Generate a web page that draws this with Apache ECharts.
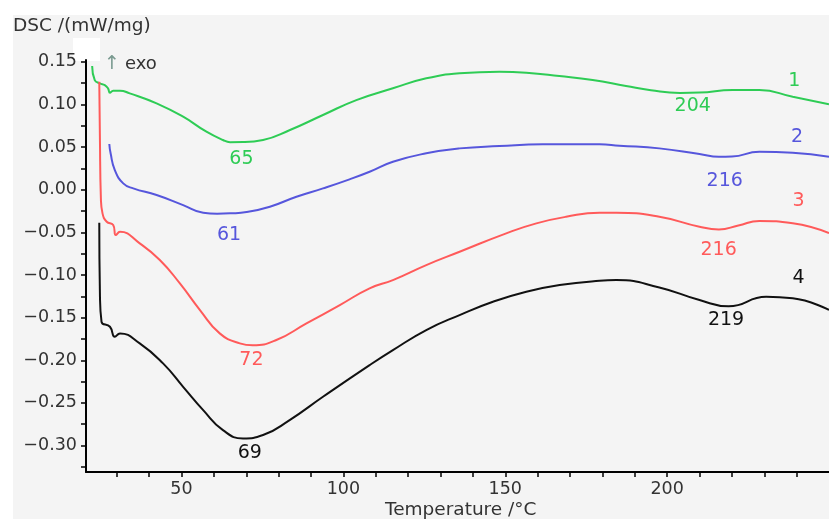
<!DOCTYPE html>
<html>
<head>
<meta charset="utf-8">
<script src="https://cdn.jsdelivr.net/npm/echarts@6/dist/echarts.min.js"></script>
<style>
  html, body { margin: 0; padding: 0; background: #ffffff; }
  #chart { width: 829px; height: 519px; }
</style>
</head>
<body>
<div id="chart"></div>
<script>
// DSC heat-flow traces of four samples (mW/mg vs °C)
const temp1 = [22.4, 23.2, 24.8, 26.3, 27.3, 27.9, 28.9, 31.0, 34.0, 42.3, 50.5, 57.7, 62.8, 65, 69, 75.2, 83.5, 93.7, 104.0, 115.3, 125.6, 135.9, 148.2, 156.5, 166.7, 177.0, 187.3, 195, 204, 210.0, 220.2, 228.5, 238.8, 250];
const dsc1  = [0.1450, 0.1285, 0.1246, 0.1226, 0.1188, 0.1136, 0.1160, 0.1160, 0.1129, 0.1012, 0.0855, 0.0679, 0.0582, 0.0557, 0.0558, 0.0582, 0.0699, 0.0875, 0.1050, 0.1188, 0.1305, 0.1364, 0.1382, 0.1371, 0.1332, 0.1285, 0.1215, 0.1165, 0.1134, 0.1138, 0.1168, 0.1168, 0.1089, 0.1000];

const temp2 = [27.7, 28.1, 29.4, 32.0, 35.1, 42.3, 50.5, 56.7, 61, 65, 70.1, 77.3, 85.5, 93.7, 101.9, 108.1, 115.3, 125.6, 135.9, 148.2, 161.6, 179.1, 185.3, 197.6, 210.0, 216, 220, 228.5, 238.8, 250];
const dsc2  = [0.0535, 0.0426, 0.0230, 0.0074, 0.0015, -0.0063, -0.0181, -0.0271, -0.0282, -0.0278, -0.0263, -0.0200, -0.0083, 0.0015, 0.0121, 0.0210, 0.0327, 0.0426, 0.0484, 0.0511, 0.0531, 0.0531, 0.0515, 0.0484, 0.0417, 0.0385, 0.0388, 0.0444, 0.0433, 0.0385];

const temp3 = [24.6, 24.8, 25.1, 25.6, 26.9, 28.9, 29.7, 31.0, 37.1, 43.3, 49.5, 55.7, 61.8, 68.0, 72, 79.3, 88.6, 98.9, 108.1, 115.3, 125.6, 135.9, 150.3, 159.6, 168.8, 179.1, 184.3, 197.6, 210.0, 216, 222, 228.5, 238.8, 250];
const dsc3  = [0.1265, 0.0600, -0.0100, -0.0278, -0.0376, -0.0415, -0.0532, -0.0494, -0.0630, -0.0825, -0.1099, -0.1411, -0.1685, -0.1802, -0.1825, -0.1763, -0.1568, -0.1353, -0.1157, -0.1060, -0.0884, -0.0728, -0.0512, -0.0395, -0.0318, -0.0271, -0.0271, -0.0318, -0.0435, -0.0466, -0.0420, -0.0368, -0.0395, -0.0510];

const temp4 = [24.6, 24.8, 25.3, 27.9, 29.4, 31.0, 37.1, 44.3, 50.5, 56.7, 62.8, 69, 75.2, 83.4, 93.7, 108.1, 115.3, 125.6, 135.9, 146.2, 156.5, 166.8, 179.1, 184.3, 197.6, 210.0, 219, 230.6, 238.8, 250];
const dsc4  = [-0.0388, -0.1216, -0.1549, -0.1607, -0.1725, -0.1685, -0.1802, -0.2037, -0.2311, -0.2584, -0.2819, -0.2916, -0.2877, -0.2701, -0.2428, -0.2057, -0.1881, -0.1646, -0.1470, -0.1314, -0.1197, -0.1119, -0.1068, -0.1060, -0.1146, -0.1294, -0.1367, -0.1256, -0.1274, -0.1410];

// peak temperatures (°C) and curve numbers
const curveNames = ['1', '2', '3', '4'];
const peakTemps = [[65, 204], [61, 216], [72, 216], [69, 219]];

// axis ticks and labels
const xTickValues = [30, 40, 50, 60, 70, 80, 90, 100, 110, 120, 130, 140, 150, 160, 170, 180, 190, 200, 210, 220, 230, 240];
const xLabelValues = [50, 100, 150, 200];
const yTickValues = [-0.325, -0.30, -0.275, -0.25, -0.225, -0.20, -0.175, -0.15, -0.125, -0.10, -0.075, -0.05, -0.025, 0, 0.025, 0.05, 0.075, 0.10, 0.125, 0.15];
const yLabelValues = [-0.30, -0.25, -0.20, -0.15, -0.10, -0.05, 0, 0.05, 0.10, 0.15];

// annotation anchors in data coordinates: [peak labels..., curve number]
const labelAnchors = [
  [[68.5, 0.0355], [207.9, 0.0980], [239.3, 0.1277]],
  [[64.7, -0.0532], [217.8, 0.0101], [240.1, 0.0620]],
  [[71.6, -0.1998], [215.9, -0.0708], [240.6, -0.0130]],
  [[71.1, -0.3085], [218.2, -0.1529], [240.6, -0.1033]]
];
const colors = ['#2ecc55', '#5656dc', '#ff5a5a', '#111111'];

const FONT = '"DejaVu Sans", Verdana, sans-serif';
const temps = [temp1, temp2, temp3, temp4];
const dscs = [dsc1, dsc2, dsc3, dsc4];

function zip(t, v) { return t.map((x, i) => [x, v[i]]); }

const series = temps.map((t, k) => {
  const texts = peakTemps[k].map(String).concat([curveNames[k]]);
  return {
    type: 'line',
    name: curveNames[k],
    data: zip(t, dscs[k]),
    showSymbol: false,
    smooth: 0.5,
    clip: true,
    lineStyle: { color: colors[k], width: 2 },
    itemStyle: { color: colors[k] },
    markPoint: {
      symbol: 'circle',
      symbolSize: 0,
      silent: true,
      animation: false,
      label: {
        show: true,
        position: 'inside',
        color: colors[k],
        fontFamily: FONT,
        fontSize: 19,
        formatter: p => p.name
      },
      data: labelAnchors[k].map((c, i) => ({ name: texts[i], coord: c }))
    }
  };
});

const chart = echarts.init(document.getElementById('chart'), null, { renderer: 'canvas' });
chart.setOption({
  animation: false,
  backgroundColor: '#ffffff',
  grid: { left: 86, right: 0, top: 60, height: 412, outerBoundsMode: 'none', containLabel: false },
  xAxis: {
    type: 'value',
    min: 20.5,
    max: 250,
    splitLine: { show: false },
    axisLine: { show: true, onZero: false, lineStyle: { color: '#000', width: 2 } },
    axisTick: { show: true, length: 5, customValues: xTickValues, lineStyle: { color: '#000', width: 1.5 } },
    axisLabel: { customValues: xLabelValues, margin: 8, color: '#333', fontSize: 17.5, fontFamily: FONT }
  },
  yAxis: {
    type: 'value',
    min: -0.331,
    max: 0.152,
    splitLine: { show: false },
    axisLine: { show: true, onZero: false, lineStyle: { color: '#000', width: 2 } },
    axisTick: { show: true, length: 5, customValues: yTickValues, lineStyle: { color: '#000', width: 1.5 } },
    axisLabel: {
      customValues: yLabelValues, margin: 9, color: '#333', fontSize: 17.5, fontFamily: FONT,
      formatter: v => v.toFixed(2).replace('-', '\u2212')
    }
  },
  graphic: [
    { type: 'rect', z: -100, silent: true, shape: { x: 13, y: 15, width: 816, height: 504 }, style: { fill: '#f4f4f4' } },
    { type: 'rect', z: -90, silent: true, shape: { x: 73, y: 38, width: 27, height: 23 }, style: { fill: '#ffffff' } },
    { type: 'text', x: 13, y: 26, style: { text: 'DSC /(mW/mg)', fill: '#333', font: '18.5px ' + FONT, verticalAlign: 'middle' } },
    { type: 'text', x: 104, y: 64, style: { text: '\u2191', fill: '#7a9a90', font: '19px ' + FONT, verticalAlign: 'middle' } },
    { type: 'text', x: 125, y: 64, style: { text: 'exo', fill: '#333', font: '18px ' + FONT, verticalAlign: 'middle' } },
    { type: 'text', x: 385, y: 510, style: { text: 'Temperature /\u00b0C', fill: '#333', font: '18.5px ' + FONT, verticalAlign: 'middle' } }
  ],
  series: series
});
</script>
</body>
</html>
